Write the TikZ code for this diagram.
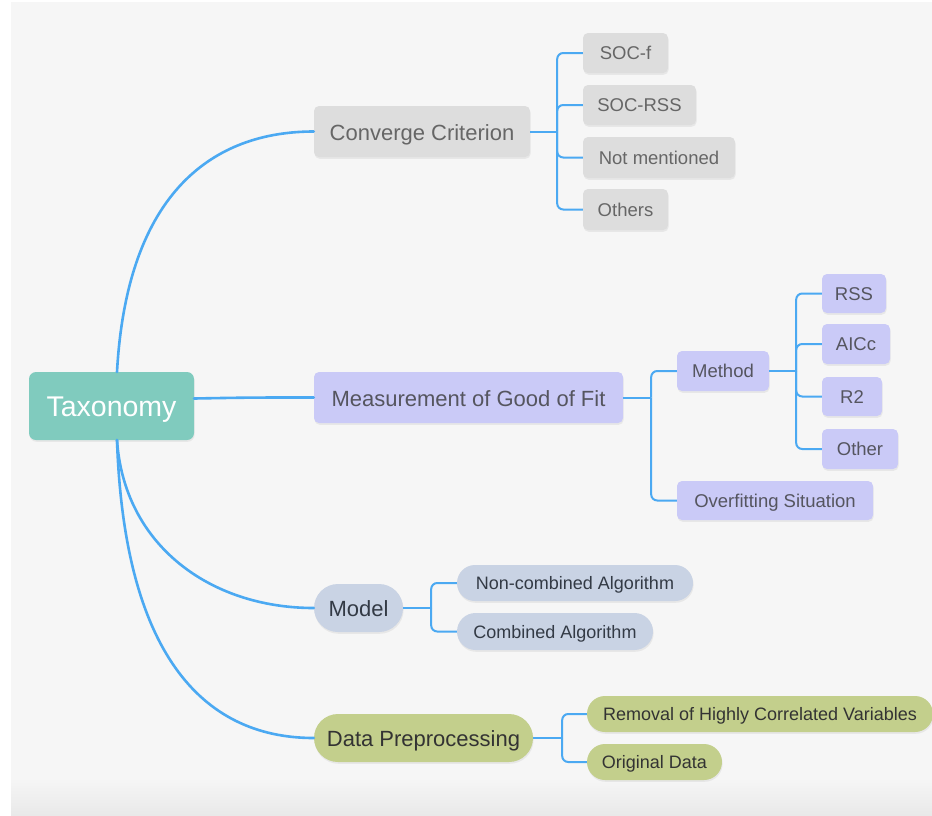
\documentclass[tikz,border=0pt]{standalone}
\usepackage{fontspec}
\setmainfont{Liberation Sans}
\usetikzlibrary{shapes.misc,shadows,calc}

\definecolor{bgcol}{HTML}{F6F6F6}
\definecolor{bgdark}{HTML}{E9E9E9}
\definecolor{linkcol}{HTML}{4BA9F2}
\definecolor{rootcol}{HTML}{80CBBE}
\definecolor{convcol}{HTML}{DDDDDD}
\definecolor{convtxt}{HTML}{666666}
\definecolor{meascol}{HTML}{CACAF7}
\definecolor{meastxt}{HTML}{55555F}
\definecolor{modelcol}{HTML}{C9D3E4}
\definecolor{modeltxt}{HTML}{333A45}
\definecolor{datacol}{HTML}{C3CF8C}
\definecolor{datatxt}{HTML}{333333}

\tikzset{
  nodebase/.style={inner sep=0pt, align=center, text depth=0pt,
    drop shadow={opacity=0.12, shadow xshift=0.6pt, shadow yshift=-1.8pt}},
  rootbox/.style={nodebase, rectangle, rounded corners=7pt, fill=rootcol,
    text=white, font=\fontsize{28.5}{31}\selectfont, text height=21.5pt},
  mainbox/.style={nodebase, rectangle, rounded corners=5pt,
    font=\fontsize{22}{26}\selectfont, text height=17pt},
  subbox/.style={nodebase, rectangle, rounded corners=5pt,
    font=\fontsize{18.5}{22}\selectfont, text height=13.3pt},
  mainpill/.style={nodebase, rounded rectangle,
    font=\fontsize{22}{26}\selectfont, text height=17pt},
  subpill/.style={nodebase, rounded rectangle,
    font=\fontsize{18}{22}\selectfont, text height=13pt},
  conv/.style={fill=convcol, text=convtxt},
  meas/.style={fill=meascol, text=meastxt},
  modl/.style={fill=modelcol, text=modeltxt},
  dat/.style={fill=datacol, text=datatxt},
  bigsize/.style 2 args={minimum width=#1pt, minimum height=#2pt},
  mainlink/.style={draw=linkcol, line width=2.6pt, line cap=round},
  sublink/.style={draw=linkcol, line width=2pt, rounded corners=6pt},
}

\begin{document}
\begin{tikzpicture}[x=1pt,y=-1pt]
  % page background
  \useasboundingbox (0,0) rectangle (932,815);
  \fill[white] (0,0) rectangle (932,815);
  \fill[bgcol] (11,2) rectangle (932,815);
  \shade[top color=bgcol, bottom color=bgdark] (11,778) rectangle (932,815);

  % root
  \node[rootbox, bigsize={165}{68}] (tax) at (111.5,406) {Taxonomy};

  % first level
  \node[mainbox, conv, bigsize={216}{51}] (cc) at (422,131.5) {Converge Criterion};
  \node[mainbox, meas, bigsize={309}{51}] (mg) at (468.5,397.5) {Measurement of Good of Fit};
  \node[mainpill, modl, bigsize={89}{48}] (md) at (358.5,608) {Model};
  \node[mainpill, dat, bigsize={219}{48}] (dp) at (423.5,738) {Data Preprocessing};

  % convergence criteria
  \node[subbox, conv, bigsize={85}{40}]  (socf)   at (625.5,53)    {SOC-f};
  \node[subbox, conv, bigsize={113}{40}] (socrss) at (639.5,105)   {SOC-RSS};
  \node[subbox, conv, bigsize={152}{41}] (notm)   at (659,157.5)   {Not mentioned};
  \node[subbox, conv, bigsize={85}{41}]  (oth)    at (625.5,209.5) {Others};

  % goodness of fit
  \node[subbox, meas, bigsize={92}{40}]  (meth)  at (723,371)    {Method};
  \node[subbox, meas, bigsize={196}{39}] (overf) at (775,500.5)  {Overfitting Situation};
  \node[subbox, meas, bigsize={64}{39}]  (rss)   at (854,293.5)  {RSS};
  \node[subbox, meas, bigsize={68}{40}]  (aicc)  at (856,344)    {AICc};
  \node[subbox, meas, bigsize={60}{39}]  (rtwo)  at (852,396.5)  {R2};
  \node[subbox, meas, bigsize={76}{40}]  (othr)  at (860,449)    {Other};

  % model
  \node[subpill, modl, bigsize={236}{36}] (ncomb) at (575,583)   {Non-combined Algorithm};
  \node[subpill, modl, bigsize={196}{37}] (comb)  at (555,631.5) {Combined Algorithm};

  % data preprocessing
  \node[subpill, dat, bigsize={346}{36}] (remv) at (760,714) {Removal of Highly Correlated Variables};
  \node[subpill, dat, bigsize={135}{36}] (orig) at (654.5,762) {Original Data};

  % links from the root
  \coordinate (ttop) at (117,372);
  \coordinate (tbot) at (117,440);
  \coordinate (tright) at (194,398.5);
  \path[mainlink] (ttop) .. controls (127,190) and (215,131.5) .. (cc.west);
  \path[mainlink] (tright) .. controls (250,397.5) .. (mg.west);
  \path[mainlink] (tbot) .. controls (124,545) and (210,608) .. (md.west);
  \path[mainlink] (tbot) .. controls (124,650) and (200,738) .. (dp.west);

  % branch junctions
  \coordinate (jcc) at ($(cc.east)+(27,0)$);
  \coordinate (jmg) at ($(mg.east)+(28,0)$);
  \coordinate (jme) at ($(meth.east)+(27,0)$);
  \coordinate (jmd) at ($(md.east)+(28,0)$);
  \coordinate (jdp) at ($(dp.east)+(29,0)$);

  \path[sublink] (cc.east) -- (jcc);
  \foreach \c in {socf,socrss,notm,oth} \path[sublink] (jcc) |- (\c.west);

  \path[sublink] (mg.east) -- (jmg);
  \foreach \c in {meth,overf} \path[sublink] (jmg) |- (\c.west);

  \path[sublink] (meth.east) -- (jme);
  \foreach \c in {rss,aicc,rtwo,othr} \path[sublink] (jme) |- (\c.west);

  \path[sublink] (md.east) -- (jmd);
  \foreach \c in {ncomb,comb} \path[sublink] (jmd) |- (\c.west);

  \path[sublink] (dp.east) -- (jdp);
  \foreach \c in {remv,orig} \path[sublink] (jdp) |- (\c.west);
\end{tikzpicture}
\end{document}
